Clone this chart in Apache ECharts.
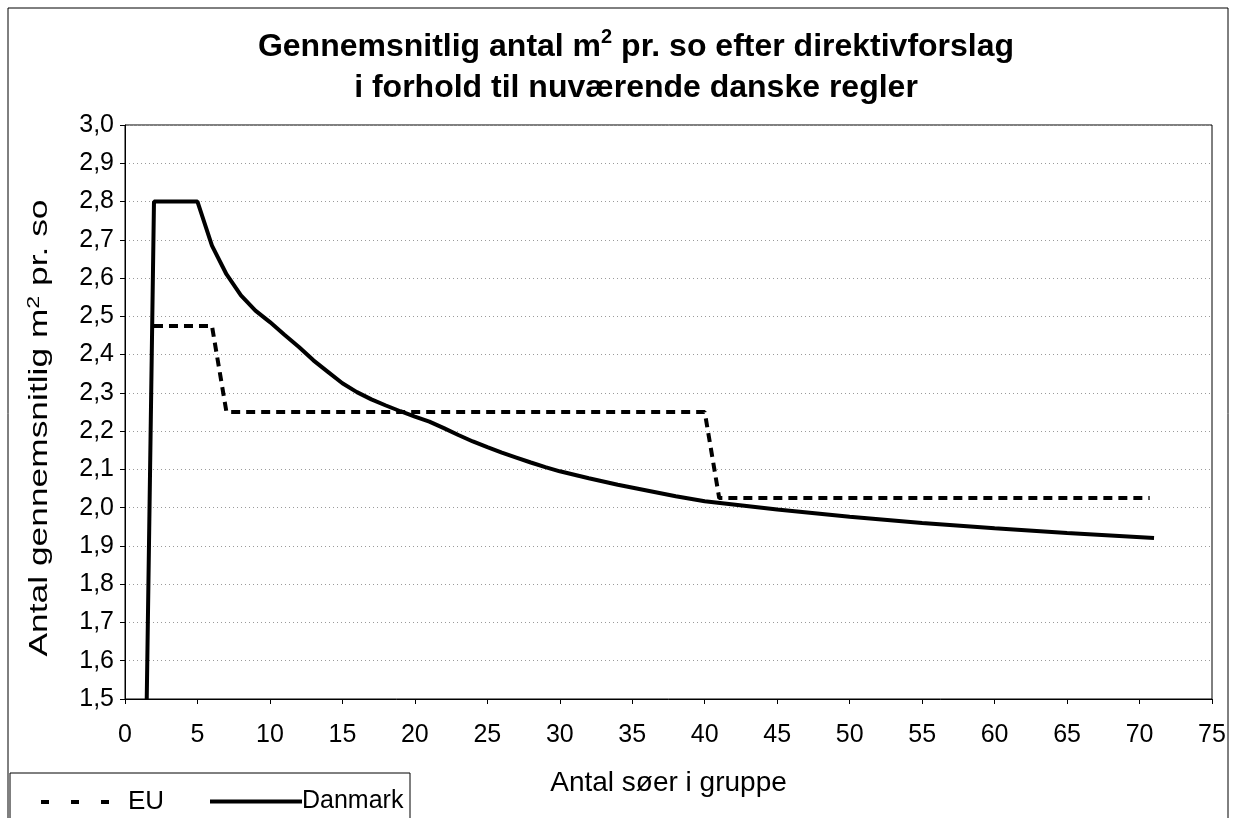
<!DOCTYPE html>
<html>
<head>
<meta charset="utf-8">
<script src="https://cdn.jsdelivr.net/npm/echarts@6/dist/echarts.min.js"></script>
<style>
html,body{margin:0;padding:0;background:#fff;}
#chart{width:1233px;height:818px;}
</style>
</head>
<body>
<div id="chart"></div>
<script>
// X values (Antal søer i gruppe) and Y values (m² pr. so)
var danmarkX = [1.5, 2, 5, 6, 7, 8, 9, 10, 11, 12, 13, 14, 15, 16, 17, 18, 19, 20, 21, 22, 23, 24, 25, 26, 27, 28, 29, 30, 32, 34, 36, 38, 40, 45, 50, 55, 60, 65, 71];
var danmarkY = [1.5, 2.8, 2.8, 2.685, 2.61, 2.555, 2.515, 2.485, 2.452, 2.42, 2.385, 2.355, 2.325, 2.302, 2.283, 2.267, 2.252, 2.238, 2.225, 2.208, 2.19, 2.173, 2.158, 2.144, 2.131, 2.118, 2.106, 2.095, 2.077, 2.06, 2.045, 2.03, 2.017, 1.995, 1.976, 1.96, 1.946, 1.934, 1.921];
var euX = [2, 6, 7, 40, 41, 70.7];
var euY = [2.475, 2.475, 2.25, 2.25, 2.025, 2.025];
var xTicks = {min: 0, max: 75, step: 5};
var yTicks = {min: 1.5, max: 3.0, step: 0.1};

function zip(xs, ys){ return xs.map(function(x,i){ return [x, ys[i]]; }); }

var chart = echarts.init(document.getElementById('chart'));
var FONT = 'Liberation Sans, Arial, sans-serif';
chart.setOption({
  backgroundColor: '#fff',
  animation: false,
  title: {
    text: '{a|Gennemsnitlig antal m}{s|2}{a| pr. so efter direktivforslag}\n{a|i forhold til nuværende danske regler}',
    left: 631, top: 22, textAlign: 'center',
    textStyle: {
      fontFamily: FONT, fontWeight: 'bold', fontSize: 32, color: '#000', lineHeight: 41,
      rich: {
        a: {fontFamily: FONT, fontWeight: 'bold', fontSize: 32, color: '#000', lineHeight: 41},
        s: {fontFamily: FONT, fontWeight: 'bold', fontSize: 20, color: '#000', verticalAlign: 'top', lineHeight: 30, padding: [0,0,16,0]}
      }
    }
  },
  grid: {left: 125, right: 21, top: 125, bottom: 119, show: true, borderColor: '#000', borderWidth: 1, backgroundColor: 'transparent'},
  legend: [
    {data: ['EU'], left: 30, top: 784, itemWidth: 76, itemHeight: 14, itemStyle: {opacity: 0},
     lineStyle: {width: 4, type: [8, 22], dashOffset: -4},
     textStyle: {fontFamily: FONT, fontSize: 26, color: '#000', padding: [0,0,0,10]}, selectedMode: false},
    {data: ['Danmark'], left: 203, top: 784, itemWidth: 92, itemHeight: 14, itemStyle: {opacity: 0},
     lineStyle: {width: 4},
     textStyle: {fontFamily: FONT, fontSize: 25, color: '#000', padding: [0,0,0,-5]}, selectedMode: false}
  ],
  xAxis: {
    type: 'value', min: xTicks.min, max: xTicks.max, interval: xTicks.step,
    name: 'Antal søer i gruppe', nameLocation: 'middle', nameGap: 70,
    nameTextStyle: {fontFamily: FONT, fontSize: 28, color: '#000'},
    axisLine: {onZero: false, lineStyle: {color: '#000', width: 1}},
    axisTick: {show: true, inside: false, length: 5, lineStyle: {color: '#000'}},
    axisLabel: {fontFamily: FONT, fontSize: 25, color: '#000', margin: 24},
    splitLine: {show: false}
  },
  yAxis: {
    type: 'value', min: yTicks.min, max: yTicks.max, interval: yTicks.step,
    axisLine: {show: true, lineStyle: {color: '#000', width: 1}},
    axisTick: {show: true, inside: false, length: 5, lineStyle: {color: '#000'}},
    axisLabel: {fontFamily: FONT, fontSize: 25, color: '#000', margin: 11,
      formatter: function(v){ return v.toFixed(1).replace('.', ','); }},
    splitLine: {show: true, lineStyle: {color: '#9a9a9a', type: [1,3], width: 1}}
  },
  graphic: [
    {type: 'rect', shape: {x: 8, y: 8, width: 1220, height: 815}, style: {fill: 'none', stroke: '#000', lineWidth: 1}, silent: true},
    {type: 'rect', shape: {x: 10, y: 773, width: 400, height: 60}, style: {fill: 'none', stroke: '#000', lineWidth: 1}, silent: true},
    {type: 'text', x: 40, y: 428, rotation: Math.PI / 2, scaleX: 1.36, silent: true,
     style: {
       text: '{a|Antal gennemsnitlig m}{s|2}{a| pr. so}',
       align: 'center', verticalAlign: 'middle',
       rich: {
         a: {fontFamily: FONT, fontSize: 26, fill: '#000'},
         s: {fontFamily: FONT, fontSize: 17, fill: '#000', verticalAlign: 'top', padding: [0,0,12,0]}
       }
     }}
  ],
  series: [
    {name: 'EU', type: 'line', data: zip(euX, euY), showSymbol: false, symbol: 'none',
     lineStyle: {color: '#000', width: 4, type: [9,6]}, itemStyle: {color: '#000'}, z: 3},
    {name: 'Danmark', type: 'line', data: zip(danmarkX, danmarkY), showSymbol: false, symbol: 'none',
     lineStyle: {color: '#000', width: 4, type: 'solid'}, itemStyle: {color: '#000'}, z: 4}
  ]
});
</script>
</body>
</html>
